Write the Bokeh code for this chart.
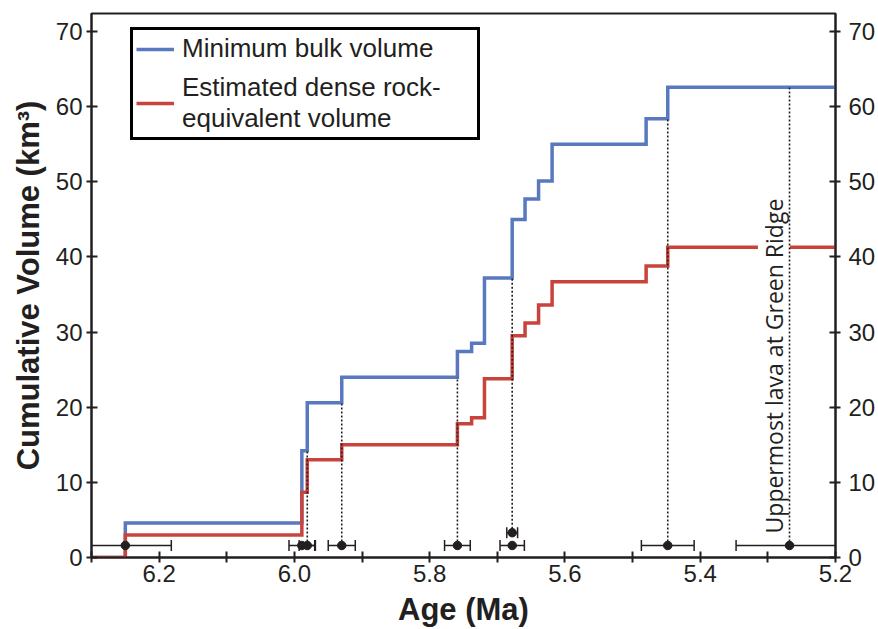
from math import pi

from bokeh.embed import file_html
from bokeh.models import (ColumnDataSource, FixedTicker, Label, Legend, LegendItem,
                          LinearAxis, NumeralTickFormatter, Range1d)
from bokeh.plotting import figure
from bokeh.resources import INLINE

# Ages (Ma) at which the cumulative erupted volume steps up
step_ages = [6.25, 5.989, 5.981, 5.930, 5.759, 5.738, 5.719, 5.678, 5.659, 5.639, 5.619, 5.480, 5.448]
# Cumulative volumes (km3) reached after each step
bulk_volume = [4.6, 14.2, 20.6, 24.0, 27.4, 28.5, 37.2, 45.0, 47.7, 50.1, 55.0, 58.4, 62.6]
dre_volume = [3.0, 8.7, 13.0, 15.0, 17.8, 18.6, 23.8, 29.5, 31.2, 33.6, 36.7, 38.8, 41.3]

# Dated units: age, uncertainty (Ma) and the row on which each is drawn
date_age = [6.25, 5.989, 5.981, 5.930, 5.759, 5.678, 5.678, 5.448, 5.268]
date_err = [0.068, 0.019, 0.012, 0.020, 0.019, 0.018, 0.008, 0.039, 0.079]
date_row = [1.6, 1.6, 1.6, 1.6, 1.6, 1.6, 3.3, 1.6, 1.6]

# Dated units that get a guide line up to the bulk-volume curve
marked_ages = [5.981, 5.930, 5.759, 5.678, 5.448, 5.268]

x_ticks = [6.2, 6.0, 5.8, 5.6, 5.4, 5.2]
x_minor_ticks = [6.3, 6.1, 5.9, 5.7, 5.5, 5.3]
y_ticks = [0, 10, 20, 30, 40, 50, 60, 70]

AGE_MIN, AGE_MAX = 5.2, 6.3
BLUE = "#5878bf"
RED = "#c9433d"
INK = "#231f20"
FONT = "Liberation Sans"

p = figure(width=878, height=629,
           x_range=Range1d(AGE_MAX, AGE_MIN), y_range=Range1d(0, 72.4),
           output_backend="svg", toolbar_location=None,
           min_border_left=91, min_border_right=43, min_border_top=13, min_border_bottom=72)
p.xgrid.visible = False
p.ygrid.visible = False
p.outline_line_color = INK
p.outline_line_width = 2
p.background_fill_color = "white"
p.border_fill_color = "white"

# Step curves of cumulative volume
xs = [AGE_MAX] + step_ages + [AGE_MIN]
bulk_src = ColumnDataSource(dict(x=xs, y=[0] + bulk_volume + [bulk_volume[-1]]))
dre_src = ColumnDataSource(dict(x=xs, y=[0] + dre_volume + [dre_volume[-1]]))
r_bulk = p.step("x", "y", source=bulk_src, mode="after", line_color=BLUE, line_width=3.5,
                line_join="miter")
r_dre = p.step("x", "y", source=dre_src, mode="after", line_color=RED, line_width=3.5,
               line_join="miter")

# Dotted guide lines from each dated unit up to the bulk curve
guide_x, guide_y0, guide_y1 = [], [], []
for a in marked_ages:
    if a in step_ages:
        top = bulk_volume[step_ages.index(a) - 1]
    else:
        top = bulk_volume[-1]
    row = max(r for ag, r in zip(date_age, date_row) if ag == a)
    guide_x.append(a)
    guide_y0.append(row)
    guide_y1.append(top)
guides = p.segment(x0=guide_x, y0=guide_y0, x1=guide_x, y1=guide_y1,
                   line_color=INK, line_width=1.6, line_dash="2 2")
guides.level = "overlay"

# Age error bars with end caps and central dots
lo = [a + e for a, e in zip(date_age, date_err)]
hi = [a - e for a, e in zip(date_age, date_err)]
p.segment(x0=lo, y0=date_row, x1=hi, y1=date_row, line_color=INK, line_width=1.5)
p.scatter(x=lo + hi, y=date_row + date_row, marker="dash", angle=pi / 2, size=11,
          line_color=INK, line_width=1.5)
p.scatter(x=date_age, y=date_row, size=8.5, color=INK)

# Axes
p.xaxis.ticker = FixedTicker(ticks=x_ticks, minor_ticks=x_minor_ticks)
p.xaxis.formatter = NumeralTickFormatter(format="0.0")
p.yaxis.ticker = FixedTicker(ticks=y_ticks)
right_axis = LinearAxis(ticker=FixedTicker(ticks=y_ticks))
p.add_layout(right_axis, "right")

for ax in (p.xaxis[0], p.yaxis[0], right_axis):
    ax.axis_line_color = INK
    ax.axis_line_width = 2
    ax.major_tick_line_color = INK
    ax.major_tick_line_width = 2
    ax.major_tick_in = 6
    ax.major_tick_out = 5
    ax.minor_tick_line_color = INK
    ax.minor_tick_line_width = 2
    ax.minor_tick_in = 6
    ax.minor_tick_out = 5
    ax.major_label_text_font = FONT
    ax.major_label_text_font_size = "24px"
    ax.major_label_text_color = INK
    ax.axis_label_text_font = FONT
    ax.axis_label_text_font_size = "31px"
    ax.axis_label_text_font_style = "bold"
    ax.axis_label_text_color = INK

p.yaxis[0].minor_tick_line_color = None
right_axis.minor_tick_line_color = None
p.xaxis.axis_label = "Age (Ma)"
p.xaxis.major_label_standoff = 2
p.xaxis.axis_label_standoff = 7
p.yaxis[0].axis_label = "Cumulative Volume (km³)"
p.yaxis[0].major_label_standoff = 4
p.yaxis[0].axis_label_standoff = 7
right_axis.major_label_standoff = 8

# Annotation beside the youngest dated lava
p.add_layout(Label(x=5.291, y=3.2, text="Uppermost lava at Green Ridge",
                   angle=pi / 2, text_align="left", text_baseline="middle",
                   text_font="Open Sans", text_font_size="23px", text_color=INK,
                   background_fill_color="white", padding=0))

legend = Legend(items=[LegendItem(label="Minimum bulk volume", renderers=[r_bulk]),
                       LegendItem(label="Estimated dense rock-\nequivalent volume",
                                  renderers=[r_dre])],
                location=(39, 417), border_line_color="black", border_line_width=3,
                border_line_alpha=1,
                label_text_font=FONT, label_text_font_size="26px",
                label_text_line_height=1.05,
                label_text_color=INK, glyph_width=38, label_standoff=8,
                padding=3, spacing=8, label_width=292,
                background_fill_color="white", background_fill_alpha=1)
p.add_layout(legend)

open("out.html", "w").write(file_html(p, INLINE))
